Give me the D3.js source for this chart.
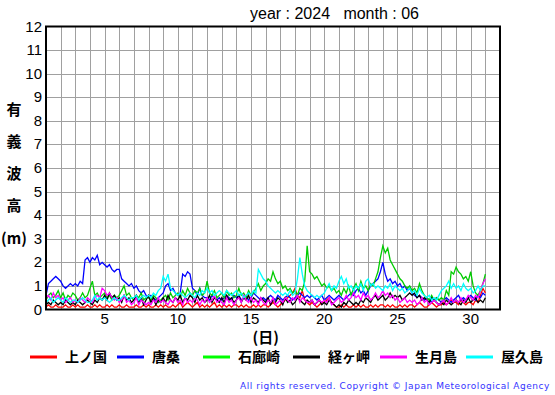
<!DOCTYPE html>
<html>
<head>
<meta charset="utf-8">
<script src="https://cdn.jsdelivr.net/npm/d3@7"></script>
<style>
body { margin: 0; background: #fff; }
svg { display: block; }
.num { font-family: "Liberation Sans", Arial, sans-serif; font-size: 15px; fill: #000; }
.jp { font-family: "Noto Sans CJK JP", sans-serif; font-size: 15px; font-weight: bold; fill: #000; }
</style>
</head>
<body>
<svg id="chart" width="555" height="395"></svg>
<script>
// 4-hourly samples (00,04,08,12,16,20 h) per day, day 1 00h .. day 31 00h
var startDay = 1;
var perDay = 6;

var stations = ["上ノ国", "唐桑", "石廊崎", "経ヶ岬", "生月島", "屋久島"];
var colors = ["#ff0000", "#0000ff", "#00cc00", "#000000", "#ff00ff", "#00ffff"];
var legendColors = ["#ff0000", "#0000ff", "#00ff00", "#000000", "#ff00ff", "#00ffff"];
var yTicks = [0,1,2,3,4,5,6,7,8,9,10,11,12];
var xTicks = [5, 10, 15, 20, 25, 30];

var kaminokuni = [
 0.1,0.2,0.1,0.1,0.2,0.1, 0.1,0.1,0.2,0.1,0.1,0.2, 0.1,0.2,0.1,0.1,0.1,0.2,
 0.1,0.1,0.2,0.1,0.2,0.1, 0.1,0.2,0.1,0.2,0.1,0.1, 0.2,0.1,0.1,0.2,0.1,0.1,
 0.1,0.2,0.1,0.1,0.2,0.1, 0.2,0.1,0.1,0.2,0.1,0.2, 0.1,0.2,0.1,0.1,0.2,0.1,
 0.2,0.3,0.1,0.2,0.3,0.2, 0.1,0.2,0.3,0.1,0.2,0.1, 0.2,0.1,0.2,0.3,0.1,0.2,
 0.1,0.2,0.1,0.2,0.1,0.2, 0.2,0.1,0.2,0.1,0.2,0.1, 0.1,0.2,0.1,0.2,0.1,0.2,
 0.2,0.1,0.2,0.3,0.2,0.1, 0.2,0.3,0.4,0.5,0.6,0.7, 0.9,0.6,0.5,0.8,0.4,0.3,
 0.2,0.3,0.2,0.1,0.2,0.3, 0.3,0.4,0.5,0.3,0.2,0.1, 0.1,0.2,0.1,0.2,0.1,0.1,
 0.2,0.1,0.2,0.1,0.2,0.1, 0.1,0.2,0.1,0.2,0.1,0.2, 0.2,0.1,0.2,0.1,0.2,0.1,
 0.1,0.2,0.1,0.2,0.1,0.2, 0.2,0.1,0.2,0.3,0.2,0.1, 0.1,0.2,0.3,0.2,0.1,0.2,
 0.2,0.3,0.2,0.3,0.4,0.3, 0.3,0.2,0.4,0.3,0.2,0.3, 0.3,0.2,0.4,0.3,0.6,0.9,
 0.7
];
var karakuwa = [
 0.6,1.1,1.2,1.3,1.4,1.3, 1.2,1.0,0.9,1.0,1.1,1.0, 1.1,1.0,1.2,1.1,2.1,2.2,
 2.0,2.2,2.1,2.3,1.9,2.0, 1.9,1.8,1.9,1.7,1.6,1.7, 1.7,1.3,1.2,1.1,1.0,1.1,
 0.9,1.0,0.8,0.7,0.8,0.6, 0.5,0.6,0.5,0.4,0.5,0.6, 0.7,1.0,1.1,0.8,0.9,0.7,
 0.6,0.7,1.5,1.4,1.6,1.5, 0.9,0.8,0.6,0.9,0.6,0.5, 0.5,0.4,0.6,0.5,0.4,0.5,
 0.4,0.5,0.6,0.5,0.4,0.6, 0.5,0.6,0.4,0.5,0.6,0.4, 0.5,0.7,0.6,0.5,0.4,0.5,
 0.4,0.5,0.6,0.5,0.4,0.6, 0.5,0.4,0.5,0.6,0.5,0.4, 0.5,0.6,0.7,0.6,0.5,0.6,
 0.5,0.6,0.5,0.4,0.5,0.6, 0.4,0.5,0.6,0.5,0.4,0.5, 0.6,0.5,0.4,0.5,0.6,0.7,
 0.6,0.8,0.9,0.7,0.8,0.6, 0.8,1.0,1.1,1.2,1.3,1.6, 2.0,1.5,1.2,1.3,1.1,1.2,
 1.0,1.1,0.9,1.0,0.8,0.9, 0.7,0.6,0.5,0.6,0.5,0.4, 0.5,0.4,0.3,0.4,0.5,0.4,
 0.3,0.4,0.5,0.4,0.3,0.4, 0.5,0.6,0.4,0.5,0.4,0.5, 0.6,0.5,0.4,0.6,0.5,0.7,
 0.6
];
var irozaki = [
 0.4,0.6,0.7,0.5,0.6,0.8, 0.5,0.7,0.4,0.6,0.5,0.7, 0.6,0.4,0.5,0.7,0.5,0.6,
 0.9,1.2,0.6,0.7,0.5,0.6, 0.7,0.5,0.6,0.4,0.6,0.5, 0.6,0.8,1.0,0.6,0.7,0.5,
 0.4,0.6,0.5,0.7,0.4,0.5, 0.5,0.4,0.6,0.5,0.3,0.4, 0.5,0.6,0.4,0.7,0.5,0.6,
 0.7,0.5,0.8,0.6,0.9,0.7, 0.6,0.8,0.7,0.9,0.6,0.7, 1.2,0.7,0.6,0.8,0.5,0.6,
 0.7,0.5,0.8,0.6,0.7,0.5, 0.6,0.9,0.6,0.7,0.5,0.8, 0.6,0.7,0.9,1.1,0.8,1.0,
 1.1,1.3,1.2,1.6,1.3,1.1, 1.2,0.9,1.0,0.8,0.9,0.7, 0.8,0.6,0.9,0.8,1.2,2.7,
 1.6,1.5,1.3,1.4,1.2,1.0, 1.1,0.9,1.0,0.8,0.9,0.7, 0.8,0.6,0.9,0.7,1.0,0.6,
 0.9,1.1,0.8,1.2,0.9,1.0, 0.8,1.1,1.0,1.3,1.6,2.2, 2.7,2.4,2.6,2.1,1.9,1.7,
 1.5,1.3,1.2,1.0,0.9,1.0, 0.8,0.9,0.7,1.1,0.8,0.6, 0.5,0.4,0.6,0.4,0.5,0.4,
 0.5,0.4,0.8,0.6,1.6,1.5, 1.8,1.6,1.5,1.3,1.4,1.2, 1.6,1.0,0.7,0.6,0.8,1.1,
 1.5
];
var kyogamisaki = [
 0.2,0.3,0.2,0.4,0.3,0.2, 0.3,0.2,0.4,0.3,0.2,0.3, 0.2,0.4,0.3,0.2,0.3,0.4,
 0.3,0.2,0.4,0.3,0.5,0.4, 0.6,0.4,0.7,0.5,0.6,0.4, 0.5,0.3,0.6,0.4,0.5,0.3,
 0.4,0.6,0.3,0.5,0.2,0.4, 0.6,0.3,0.5,0.2,0.4,0.3, 0.5,0.3,0.6,0.4,0.3,0.5,
 0.4,0.6,0.3,0.5,0.4,0.6, 0.5,0.3,0.6,0.4,0.5,0.3, 0.4,0.6,0.3,0.5,0.4,0.3,
 0.5,0.3,0.6,0.4,0.5,0.3, 0.4,0.6,0.3,0.5,0.4,0.6, 0.3,0.5,0.4,0.3,0.5,0.4,
 0.3,0.5,0.2,0.4,0.3,0.5, 0.4,0.2,0.5,0.3,0.4,0.2, 0.3,0.5,0.4,0.3,0.2,0.4,
 0.3,0.4,0.2,0.3,0.4,0.2, 0.3,0.2,0.4,0.3,0.2,0.1, 0.2,0.1,0.3,0.2,0.4,0.3,
 0.2,0.3,0.2,0.4,0.3,0.5, 0.4,0.3,0.5,0.6,0.4,0.5, 0.6,0.4,0.5,0.7,0.5,0.6,
 0.5,0.6,0.4,0.5,0.6,0.7, 0.6,0.7,0.5,0.6,0.4,0.5, 0.4,0.3,0.5,0.4,0.3,0.2,
 0.3,0.2,0.4,0.3,0.2,0.3, 0.4,0.3,0.2,0.4,0.3,0.5, 0.3,0.4,0.5,0.3,0.4,0.3,
 0.5
];
var ikitsukishima = [
 0.5,0.6,0.4,0.7,0.5,0.6, 0.4,0.5,0.3,0.4,0.5,0.3, 0.4,0.3,0.5,0.4,0.3,0.5,
 0.4,0.3,0.5,0.6,0.5,0.9, 0.8,0.6,0.7,0.5,0.4,0.5, 0.3,0.4,0.6,0.3,0.4,0.2,
 0.3,0.5,0.2,0.4,0.3,0.2, 0.3,0.2,0.4,0.3,0.5,0.3, 0.4,0.3,0.2,0.4,0.3,0.5,
 0.3,0.4,0.2,0.5,0.3,0.4, 0.3,0.5,0.4,0.2,0.4,0.3, 0.5,0.3,0.4,0.6,0.3,0.4,
 0.3,0.2,0.5,0.3,0.4,0.2, 0.4,0.5,0.3,0.6,0.4,0.3, 0.5,0.3,0.4,0.2,0.5,0.3,
 0.2,0.4,0.3,0.5,0.2,0.3, 0.4,0.3,0.5,0.4,0.3,0.5, 0.4,0.6,0.3,0.5,0.4,0.3,
 0.3,0.4,0.2,0.3,0.4,0.3, 0.4,0.3,0.5,0.2,0.3,0.4, 0.5,0.3,0.4,0.6,0.4,0.5,
 0.7,0.5,0.6,0.4,0.7,0.5, 0.6,0.4,0.5,0.7,0.5,0.6, 0.8,0.6,0.7,0.5,0.6,0.4,
 0.5,0.3,0.4,0.5,0.3,0.4, 0.3,0.4,0.2,0.3,0.5,0.3, 0.4,0.2,0.3,0.4,0.3,0.2,
 0.3,0.4,0.2,0.3,0.5,0.3, 0.4,0.3,0.5,0.3,0.4,0.6, 0.5,0.4,0.6,0.5,0.8,1.1,
 1.3
];
var yakushima = [
 0.3,0.4,0.5,0.3,0.4,0.5, 0.4,0.3,0.5,0.4,0.3,0.4, 0.4,0.3,0.4,0.5,0.4,0.3,
 0.3,0.4,0.6,0.4,0.5,0.4, 0.5,0.4,0.3,0.4,0.5,0.4, 0.4,0.5,0.6,0.5,0.4,0.5,
 0.5,0.6,0.4,0.5,0.6,0.5, 0.6,0.5,0.7,0.6,0.8,0.9, 1.4,1.2,1.5,0.9,0.8,0.7,
 0.6,0.7,0.6,0.5,0.6,0.7, 0.6,0.5,0.7,0.6,0.8,0.7, 0.9,0.7,0.8,0.6,0.7,0.8,
 0.7,0.6,0.8,0.7,0.6,0.7, 0.8,0.6,0.7,0.5,0.6,0.7, 0.6,0.8,0.7,1.7,1.5,1.3,
 1.2,1.0,0.9,0.8,0.7,0.8, 0.7,0.6,0.7,0.6,0.8,0.6, 0.7,1.3,2.2,1.5,1.0,0.8,
 0.7,0.6,0.5,0.6,0.5,0.6, 0.7,0.9,1.1,0.8,1.0,0.9, 1.2,1.4,1.1,1.3,0.9,1.0,
 0.8,1.0,0.9,1.1,0.8,1.2, 1.3,1.0,1.1,0.9,1.0,0.9, 0.8,1.0,0.9,1.1,0.8,1.0,
 0.9,0.8,0.9,0.7,0.8,0.9, 0.7,0.8,0.6,0.9,0.7,0.6, 0.5,0.6,0.4,0.5,0.4,0.6,
 0.8,0.9,1.0,1.2,0.9,1.1, 0.9,1.0,0.8,1.1,0.9,0.8, 0.9,0.7,0.8,1.0,0.8,1.0,
 1.0
];
var series = [kaminokuni, karakuwa, irozaki, kyogamisaki, ikitsukishima, yakushima];

var svg = d3.select("#chart");
var margin = { left: 46, right: 500, top: 26.5, bottom: 309.5 };

var x = d3.scaleLinear().domain([1, 32]).range([margin.left, margin.right]);
var y = d3.scaleLinear().domain([0, 12]).range([margin.bottom, margin.top]);

// grid
svg.append("g")
	.attr("transform", "translate(0," + margin.bottom + ")")
	.call(d3.axisBottom(x).tickValues(d3.range(2, 32)).tickSize(-(margin.bottom - margin.top)).tickFormat(""))
	.call(function(g){
		g.select(".domain").remove();
		g.selectAll("line").attr("stroke", "#a0a0a0").attr("shape-rendering", "crispEdges");
	});
svg.append("g")
	.attr("transform", "translate(" + margin.left + ",0)")
	.call(d3.axisLeft(y).tickValues(yTicks.slice(1, -1)).tickSize(-(margin.right - margin.left)).tickFormat(""))
	.call(function(g){
		g.select(".domain").remove();
		g.selectAll("line").attr("stroke", "#a0a0a0").attr("shape-rendering", "crispEdges");
	});

// data lines
var line = d3.line()
	.x(function(d, i){ return x(startDay + i / perDay); })
	.y(function(d){ return y(d); });

series.forEach(function(s, k){
	svg.append("path")
		.datum(s)
		.attr("fill", "none")
		.attr("stroke", colors[k])
		.attr("stroke-width", 1.3)
		.attr("d", line);
});

// frame
svg.append("rect")
	.attr("x", margin.left)
	.attr("y", margin.top)
	.attr("width", margin.right - margin.left)
	.attr("height", margin.bottom - margin.top)
	.attr("fill", "none")
	.attr("stroke", "#000")
	.attr("stroke-width", 2);

// tick labels
svg.append("g").selectAll("text")
	.data(yTicks).enter().append("text")
	.attr("class", "num")
	.attr("x", margin.left - 4)
	.attr("y", function(d){ return y(d) + 5; })
	.attr("text-anchor", "end")
	.text(function(d){ return d; });

svg.append("g").selectAll("text")
	.data(xTicks).enter().append("text")
	.attr("class", "num")
	.attr("x", function(d){ return x(d); })
	.attr("y", 324)
	.attr("text-anchor", "middle")
	.text(function(d){ return d; });

// titles
svg.append("text")
	.attr("class", "num")
	.attr("x", 250)
	.attr("y", 19)
	.attr("xml:space", "preserve")
	.style("white-space", "pre")
	.style("font-size", "16px")
	.text("year : 2024   month : 06");

svg.append("text")
	.attr("class", "jp")
	.attr("x", x(16))
	.attr("y", 343)
	.attr("text-anchor", "middle")
	.text("(日)");

var yLabel = ["有", "義", "波", "高", "(m)"];
var yLabelPos = [110, 142, 174, 206, 239];
svg.append("g").selectAll("text")
	.data(yLabel).enter().append("text")
	.attr("class", "jp")
	.attr("x", 14)
	.attr("y", function(d, i){ return yLabelPos[i] + 5; })
	.attr("text-anchor", "middle")
	.text(function(d){ return d; });

// legend
var legendX = [30, 117, 203, 293, 380, 466];
var legend = svg.append("g").selectAll("g")
	.data(stations).enter().append("g")
	.attr("transform", function(d, i){ return "translate(" + legendX[i] + ",357)"; });
legend.append("line")
	.attr("x1", 0).attr("x2", 27)
	.attr("stroke", function(d, i){ return legendColors[i]; })
	.attr("stroke-width", 3);
legend.append("text")
	.attr("class", "jp")
	.attr("x", 35)
	.attr("y", 5)
	.style("font-size", "14px")
	.text(function(d){ return d; });

svg.append("text")
	.attr("x", 550)
	.attr("y", 389)
	.attr("text-anchor", "end")
	.style("font-family", "'DejaVu Sans', sans-serif")
	.style("font-size", "9px")
	.style("letter-spacing", "0.55px")
	.style("fill", "#3333ff")
	.text("All rights reserved. Copyright © Japan Meteorological Agency");
</script>
</body>
</html>
